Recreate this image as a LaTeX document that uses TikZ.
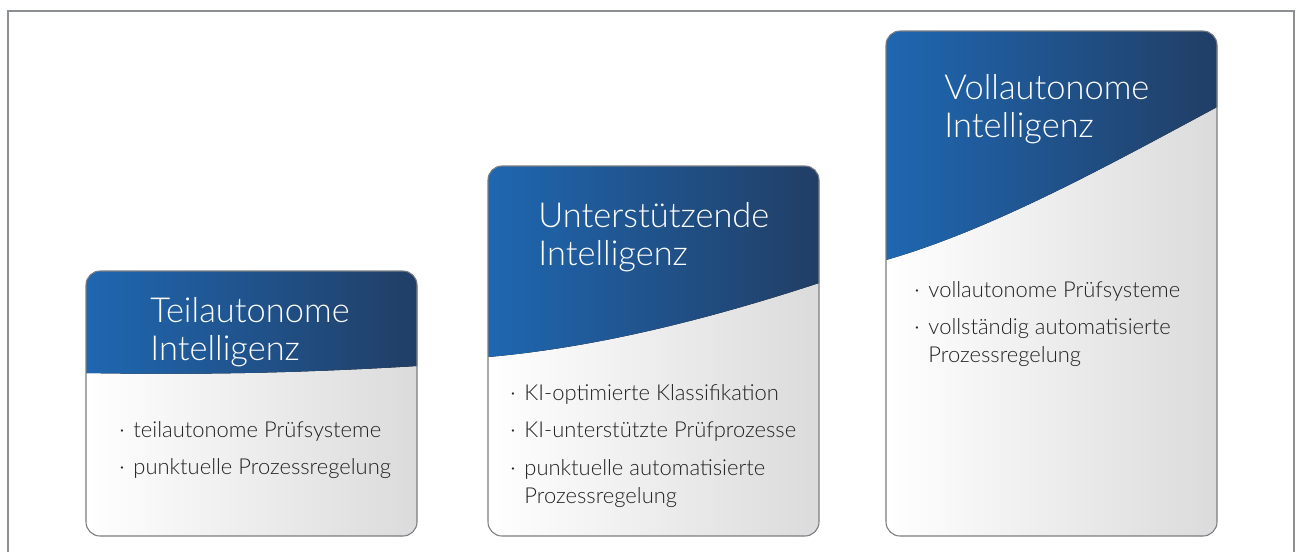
\documentclass[tikz,border=0pt]{standalone}
\usepackage{fontspec}
\setmainfont{Lato Light}
\usetikzlibrary{calc}

\definecolor{headleft}{HTML}{1F67B1}
\definecolor{headright}{HTML}{213E65}
\definecolor{bodyright}{HTML}{DBDBDB}
\definecolor{frameline}{HTML}{8C8F94}
\definecolor{cardline}{HTML}{7A7D82}
\definecolor{listtext}{HTML}{222222}

\tikzset{
  card body/.style={left color=white, right color=bodyright},
  card head/.style={left color=headleft, right color=headright},
  card edge/.style={draw=cardline, line width=0.6pt, rounded corners=8},
  title/.style={anchor=base west, align=left, text=white, inner sep=0pt,
    font=\fontsize{19.6}{21.5}\selectfont},
  points/.style={anchor=base west, inner sep=0pt, text=listtext,
    font=\fontsize{12.5}{15.9}\selectfont}
}

% one bullet row
\newcommand\pt[1]{\textperiodcentered & #1}

\begin{document}
\begin{tikzpicture}[x=0.02cm,y=-0.02cm]
\useasboundingbox (0,0) rectangle (1300,552);

% Draw the outer frame (open at the bottom)
\draw[frameline, line width=0.8pt] (8,552) -- (8,11) -- (1294,11) -- (1294,552);

% Draw the left card
\begin{scope}
  \clip[rounded corners=8] (86,271) rectangle (417,536);
  \fill[card body] (86,271) rectangle (417,536);
  \fill[card head] (86,271) -- (417,271) -- (417,366)
        .. controls (300,373) and (200,375) .. (86,373) -- cycle;
\end{scope}
\draw[card edge] (86,271) rectangle (417,536);
% title anchor sits on the last line
\node[title] (teil-title) at (150,360) {Teilautonome\\Intelligenz};
\node[points] (teil-list) at (119,437) {%
  \begin{tabular}[t]{@{}l@{\hspace{5pt}}l@{}}
  \pt{teilautonome Prüfsysteme}\\[5.6pt]
  \pt{punktuelle Prozessregelung}
  \end{tabular}};

% Draw the middle card
\begin{scope}
  \clip[rounded corners=8] (488,166) rectangle (819,536);
  \fill[card body] (488,166) rectangle (819,536);
  \fill[card head] (488,166) -- (819,166) -- (819,283)
        .. controls (700,322) and (590,348) .. (488,357) -- cycle;
\end{scope}
\draw[card edge] (488,166) rectangle (819,536);
\node[title] (unter-title) at (538,265) {Unterstützende\\Intelligenz};
\node[points] (unter-list) at (510,400) {%
  \begin{tabular}[t]{@{}l@{\hspace{5pt}}l@{}}
  \pt{KI-optimierte Klassifikation}\\[5.6pt]
  \pt{KI-unterstützte Prüfprozesse}\\[5.6pt]
  \pt{punktuelle automatisierte}\\
      & Prozessregelung
  \end{tabular}};

% Draw the right card
\begin{scope}
  \clip[rounded corners=8] (886,31) rectangle (1217,536);
  \fill[card body] (886,31) rectangle (1217,536);
  \fill[card head] (886,31) -- (1217,31) -- (1217,107)
        .. controls (1100,170) and (990,230) .. (886,260) -- cycle;
\end{scope}
\draw[card edge] (886,31) rectangle (1217,536);
\node[title] (voll-title) at (944,137) {Vollautonome\\Intelligenz};
\node[points] (voll-list) at (914,297) {%
  \begin{tabular}[t]{@{}l@{\hspace{5pt}}l@{}}
  \pt{vollautonome Prüfsysteme}\\[5.6pt]
  \pt{vollständig automatisierte}\\
      & Prozessregelung
  \end{tabular}};

\end{tikzpicture}
\end{document}
